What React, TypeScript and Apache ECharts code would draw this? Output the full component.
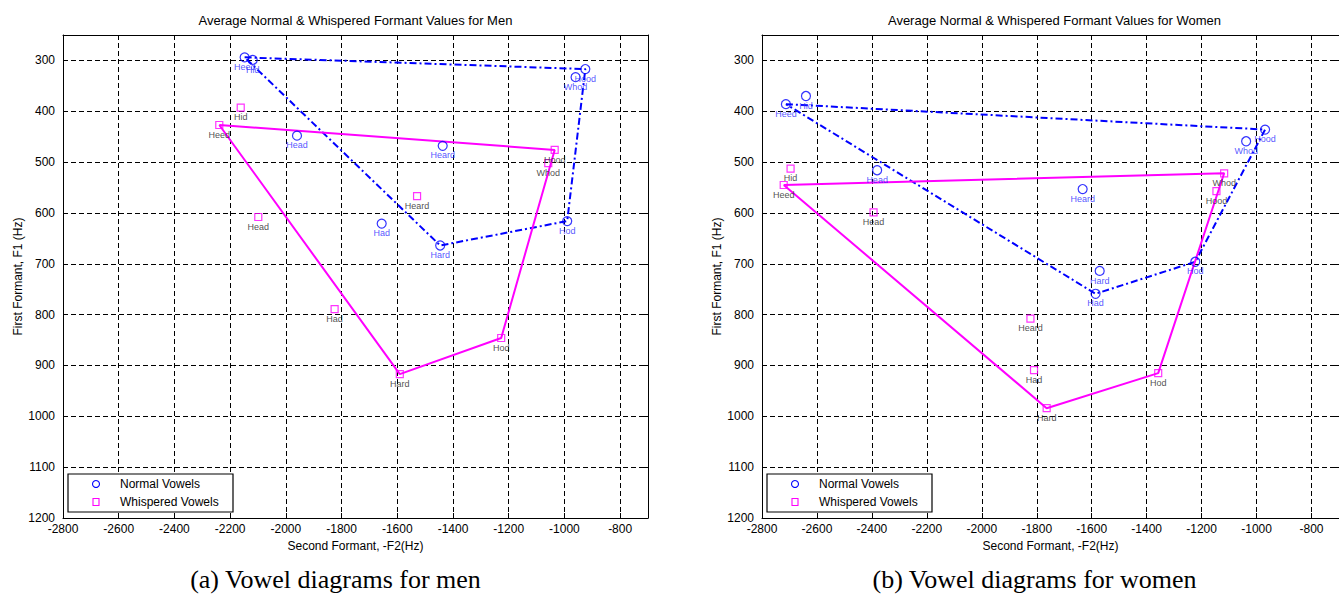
import React, { useEffect, useRef } from 'react';
import * as echarts from 'echarts';

const vowels = ['Heed', 'Hid', 'Head', 'Had', 'Hard', 'Hod', 'Hood', 'Whod', 'Heard'];

// Men
const menNormalF2 = [-2148, -2119, -1960, -1656, -1446, -990, -925, -960, -1437];
const menNormalF1 = [294, 299, 448, 621, 664, 616, 317, 333, 468];
const menWhisperF2 = [-2239, -2162, -2099, -1825, -1591, -1227, -1035, -1058, -1529];
const menWhisperF1 = [427, 393, 608, 789, 917, 846, 476, 502, 567];

// Women
const womenNormalF2 = [-2713, -2640, -2381, -1586, -1571, -1223, -969, -1038, -1633];
const womenNormalF1 = [386, 370, 516, 759, 714, 696, 436, 459, 553];
const womenWhisperF2 = [-2721, -2696, -2394, -1810, -1764, -1358, -1146, -1118, -1823];
const womenWhisperF1 = [545, 513, 599, 909, 984, 915, 557, 522, 808];

// Outline (vowel quadrilateral) orders
const menNormalOutline = ['Heed', 'Hood', 'Hod', 'Hard', 'Heed'];
const menWhisperOutline = ['Heed', 'Hood', 'Hod', 'Hard', 'Heed'];
const womenNormalOutline = ['Heed', 'Hood', 'Hod', 'Had', 'Heed'];
const womenWhisperOutline = ['Heed', 'Whod', 'Hod', 'Hard', 'Heed'];

const titles = [
  'Average Normal & Whispered Formant Values for Men',
  'Average Normal & Whispered Formant Values for Women',
];
const captions = ['(a) Vowel diagrams for men', '(b) Vowel diagrams for women'];
const legendNames = ['Normal Vowels', 'Whispered Vowels'];

const SANS = '"Liberation Sans", Arial, Helvetica, sans-serif';
const SERIF = '"Liberation Serif", "Times New Roman", serif';
const BLUE = '#0000ff';
const MAGENTA = '#ff00ff';

const grids = [
  { left: 63, top: 35, width: 585, height: 483 },
  { left: 762, top: 35, width: 585, height: 483 },
];

function outlineData(order: string[], f2: number[], f1: number[]) {
  return order.map((v) => {
    const i = vowels.indexOf(v);
    return [f2[i], f1[i]];
  });
}
function pointData(f2: number[], f1: number[]) {
  return vowels.map((v, i) => ({ name: v, value: [f2[i], f1[i]] }));
}

const plain = (v: number) => String(v);

export default function App() {
  const ref = useRef<HTMLDivElement>(null);
  useEffect(() => {
    if (!ref.current) return;
    const chart = echarts.init(ref.current, undefined, { renderer: 'svg' });

    const axisLine = { show: true, onZero: false, lineStyle: { color: '#000', width: 1 } };
    const axisTick = { show: true, inside: true, length: 5, lineStyle: { color: '#000' } };
    const split = { show: true, lineStyle: { color: '#000', width: 1, type: [5, 3] } };

    const xAxis: any[] = [];
    const yAxis: any[] = [];
    grids.forEach((_, g) => {
      xAxis.push({
        gridIndex: g, type: 'value', min: -2800, max: -700, interval: 200, position: 'bottom',
        axisLine, axisTick, splitLine: split,
        axisLabel: { showMaxLabel: false, color: '#000', fontSize: 12, fontFamily: SANS, margin: 5, formatter: plain },
        name: 'Second Formant, -F2(Hz)', nameLocation: 'middle', nameGap: 22,
        nameTextStyle: { color: '#000', fontSize: 12, fontFamily: SANS },
      });
      xAxis.push({
        gridIndex: g, type: 'value', min: -2800, max: -700, interval: 200, position: 'top',
        axisLine, axisTick, splitLine: { show: false }, axisLabel: { show: false },
      });
      yAxis.push({
        gridIndex: g, type: 'value', inverse: true, min: 250, max: 1200, splitNumber: 10,
        minInterval: 100, maxInterval: 100, position: 'left',
        axisLine, axisTick, splitLine: split,
        axisLabel: { showMinLabel: false, color: '#000', fontSize: 12, fontFamily: SANS, margin: 8, formatter: plain },
        name: 'First Formant, F1 (Hz)', nameLocation: 'middle', nameGap: 38,
        nameTextStyle: { color: '#000', fontSize: 12, fontFamily: SANS },
      });
      yAxis.push({
        gridIndex: g, type: 'value', inverse: true, min: 250, max: 1200, splitNumber: 10,
        minInterval: 100, maxInterval: 100, position: 'right',
        axisLine, axisTick, splitLine: { show: false }, axisLabel: { show: false },
      });
    });

    const sets = [
      { g: 0, nF2: menNormalF2, nF1: menNormalF1, wF2: menWhisperF2, wF1: menWhisperF1, nO: menNormalOutline, wO: menWhisperOutline },
      { g: 1, nF2: womenNormalF2, nF1: womenNormalF1, wF2: womenWhisperF2, wF1: womenWhisperF1, nO: womenNormalOutline, wO: womenWhisperOutline },
    ];

    const series: any[] = [];
    sets.forEach((s) => {
      const xi = s.g * 2;
      const yi = s.g * 2;
      series.push({
        type: 'line', name: 'Normal outline', xAxisIndex: xi, yAxisIndex: yi,
        data: outlineData(s.nO, s.nF2, s.nF1), symbol: 'none', silent: true, z: 2,
        lineStyle: { color: BLUE, width: 2, type: [7, 3, 2, 3] },
      });
      series.push({
        type: 'line', name: 'Whispered outline', xAxisIndex: xi, yAxisIndex: yi,
        data: outlineData(s.wO, s.wF2, s.wF1), symbol: 'none', silent: true, z: 2,
        lineStyle: { color: MAGENTA, width: 2 },
      });
      series.push({
        type: 'scatter', name: legendNames[0], xAxisIndex: xi, yAxisIndex: yi,
        data: pointData(s.nF2, s.nF1), symbol: 'circle', symbolSize: 9, z: 3,
        itemStyle: { color: 'transparent', borderColor: BLUE, borderWidth: 1.2 },
        label: {
          show: true, position: 'bottom', distance: 0, formatter: '{b}', fontSize: 9, fontFamily: SANS,
          color: '#2a2aff', textBorderWidth: 0, textShadowBlur: 0,
        },
      });
      series.push({
        type: 'scatter', name: legendNames[1], xAxisIndex: xi, yAxisIndex: yi,
        data: pointData(s.wF2, s.wF1), symbol: 'rect', symbolSize: 7, z: 3,
        itemStyle: { color: 'transparent', borderColor: MAGENTA, borderWidth: 1.2 },
        label: {
          show: true, position: 'bottom', distance: 1, formatter: '{b}', fontSize: 9, fontFamily: SANS,
          color: '#222', textBorderWidth: 0, textShadowBlur: 0,
        },
      });
    });

    const graphic: any[] = [];
    grids.forEach((gr, g) => {
      const cx = gr.left + gr.width / 2;
      graphic.push({
        type: 'text', x: cx, y: 20,
        style: { text: titles[g], font: `13px ${SANS}`, fill: '#000', align: 'center', verticalAlign: 'middle' },
      });
      graphic.push({
        type: 'text', x: cx - 20, y: 579,
        style: { text: captions[g], font: `26px ${SERIF}`, fill: '#000', align: 'center', verticalAlign: 'middle' },
      });
      const lx = gr.left + 5;
      graphic.push({
        type: 'rect', shape: { x: lx, y: 474, width: 165, height: 38 },
        style: { fill: '#fff', stroke: '#000', lineWidth: 1.2 }, z: 10,
      });
      graphic.push({
        type: 'circle', shape: { cx: lx + 28, cy: 484, r: 3.5 },
        style: { fill: 'none', stroke: BLUE, lineWidth: 1.1 }, z: 11,
      });
      graphic.push({
        type: 'rect', shape: { x: lx + 25, y: 498.5, width: 6, height: 7 },
        style: { fill: 'none', stroke: MAGENTA, lineWidth: 1.1 }, z: 11,
      });
      graphic.push({
        type: 'text', x: lx + 52, y: 484, z: 11,
        style: { text: legendNames[0], font: `12px ${SANS}`, fill: '#000', verticalAlign: 'middle' },
      });
      graphic.push({
        type: 'text', x: lx + 52, y: 502, z: 11,
        style: { text: legendNames[1], font: `12px ${SANS}`, fill: '#000', verticalAlign: 'middle' },
      });
    });

    chart.setOption({
      animation: false,
      backgroundColor: '#fff',
      grid: grids.map((g) => ({ ...g, containLabel: false })),
      xAxis,
      yAxis,
      series,
      graphic,
    });
    return () => chart.dispose();
  }, []);
  return (
    <div
      ref={ref}
      style={{ position: 'fixed', left: 0, top: 0, width: 1339, height: 594, background: '#fff' }}
    />
  );
}
